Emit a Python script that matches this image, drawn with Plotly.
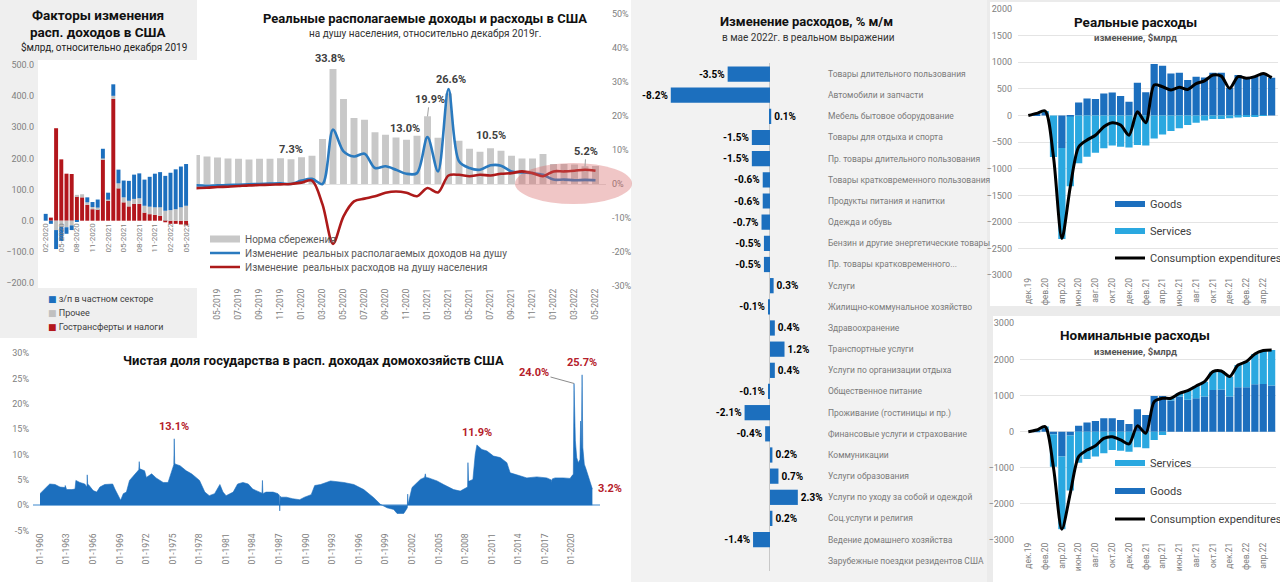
import plotly.graph_objects as go

W, H = 1280, 582


def fx(p):
    return p / W


def fy(p):
    return 1 - p / H


def dx(a, b):
    return [a / W, b / W]


def dy(top, bottom):
    return [1 - bottom / H, 1 - top / H]


FONT = "Roboto, 'Noto Sans', 'DejaVu Sans', sans-serif"
TICK = "#808080"
TXT = "#404040"
BLUE = "#1c6fbe"
LIGHT = "#2aa8e0"
RED_A = "#b3161c"
GRAY_A = "#c0c0c0"
SAV_GRAY = "#c8c8c8"
INC_BLUE = "#2a7abf"
SPEND_RED = "#ad1a1a"
ANN_RED = "#b5202a"


def mlabel(y, m):
    return f"{m:02d}-{y}"


# ---------------- Panel A: factors of disposable income change ----------------
fac_months = [mlabel(2020 + (m - 1) // 12, (m - 1) % 12 + 1) for m in range(2, 30)]
fac_transfers = [0, 10, 297, 197, 151, 150, 78, 75, 51, 37, 37, 197, 64, 391, 104, 59,
                 46, 54, 54, 26, 21, 19, 16, -5, -10, -10, -12, -15]
fac_other = [0, 0, -30, -20, -21, -15, 5, 10, 8, 7, 5, 3, 4, 10, 16, 16,
             18, 16, 18, 22, 24, 24, 27, 32, 34, 37, 43, 48]
fac_wages = [22, -10, -61, -45, -21, -15, -4, 0, 16, 16, 26, 31, 22, 37, 44, 54,
             64, 78, 80, 84, 96, 108, 113, 112, 120, 128, 131, 134]

# ---------------- Panel B: real income & spending per capita ----------------
b_idx = list(range(41))  # Jan 2019 .. May 2022
b_labels = [mlabel(2019 + i // 12, i % 12 + 1) for i in b_idx]
saving_rate = [8.8, 8.6, 8.5, 8.1, 7.8, 7.5, 7.4, 7.2, 7.4, 7.4, 7.6, 7.3,
               7.9, 8.3, 13.2, 33.8, 25.0, 19.4, 18.9, 15.2, 14.5, 13.7, 13.0, 14.2,
               19.9, 13.6, 26.6, 12.7, 10.4, 9.5, 10.5, 9.8, 8.3, 7.5, 7.5, 8.8,
               5.9, 5.9, 5.7, 5.2, 5.3]
income_chg = [-0.8, -0.6, -0.4, -0.5, -0.4, -0.3, -0.2, -0.1, 0.0, 0.1, 0.2, 0.0,
              1.0, 1.5, 0.0, 16.0, 9.6, 8.1, 8.9, 4.7, 5.2, 4.2, 3.0, 3.2,
              13.8, 3.7, 27.9, 6.7, 4.7, 4.2, 5.5, 5.4, 3.7, 3.4, 3.2, 2.7,
              1.3, 1.3, 1.1, 1.2, 1.1]
spend_chg = [-1.5, -1.3, -1.2, -1.1, -0.9, -0.8, -0.6, -0.4, -0.3, -0.2, -0.1, 0.0,
             0.4, 1.0, -6.0, -17.6, -9.5, -5.1, -4.3, -3.6, -2.6, -2.2, -2.6, -3.6,
             -1.2, -2.5, 2.5, 2.7, 2.3, 2.7, 2.5, 3.0, 3.2, 3.7, 3.2, 2.3,
             3.7, 3.7, 3.9, 4.2, 3.9]
b_yticks = list(range(-30, 51, 10))

# ---------------- Panel C: government net share ----------------
gov_year = [1960.0, 1960.2, 1960.75, 1961.1, 1961.7, 1962.25, 1962.8, 1962.85, 1962.9, 1963.0,
            1963.6, 1963.95, 1964.05, 1964.5, 1965.05, 1965.3, 1965.33, 1965.38, 1965.55, 1966.0,
            1966.4, 1966.76, 1967.3, 1967.9, 1968.2, 1968.45, 1968.8, 1969.1, 1969.4, 1969.75,
            1970.1, 1970.5, 1970.9, 1971.15, 1971.2, 1971.25, 1971.45, 1971.8, 1972.0, 1972.5,
            1972.6, 1973.1, 1973.9, 1974.45, 1974.85, 1975.1, 1975.15, 1975.2, 1975.3, 1975.8,
            1976.5, 1977.1, 1977.6, 1978.0, 1978.6, 1979.1, 1979.7, 1980.3, 1980.65, 1981.0,
            1981.8, 1982.3, 1982.9, 1983.5, 1984.0, 1984.8, 1985.05, 1985.1, 1985.15, 1985.5,
            1986.3, 1986.85, 1987.0, 1987.05, 1987.1, 1987.2, 1987.8, 1988.5, 1989.3, 1989.85,
            1990.6, 1991.0, 1991.66, 1992.78, 1994.28, 1995.41, 1996.53, 1997.66, 1998.41, 1999.17,
            1999.91, 2000.29, 2001.04, 2001.34, 2001.45, 2001.49, 2001.53, 2001.64, 2001.98, 2002.92,
            2003.4, 2003.48, 2003.55, 2003.85, 2004.8, 2005.54, 2006.67, 2007.42, 2008.18, 2008.25,
            2008.29, 2008.36, 2008.47, 2008.85, 2009.11, 2009.3, 2009.86, 2010.43, 2011.17, 2011.93,
            2012.68, 2013.05, 2013.8, 2014.93, 2016.06, 2017.18, 2017.7, 2017.75, 2017.8, 2018.12,
            2019.05, 2019.81, 2020.11, 2020.18, 2020.26, 2020.33, 2020.41, 2020.56, 2020.74, 2020.93,
            2021.0, 2021.08, 2021.17, 2021.25, 2021.42, 2021.62, 2021.82, 2022.0, 2022.33]
gov_share = [2.3, 2.6, 3.6, 4.2, 4.1, 3.6, 3.5, 3.9, 3.4, 3.1,
             3.1, 3.2, 4.9, 4.5, 4.2, 3.6, 6.0, 4.2, 3.9, 2.9,
             2.6, 3.6, 4.1, 4.1, 4.2, 3.2, 1.9, 1.0, 2.3, 2.6,
             4.9, 5.8, 6.5, 7.0, 8.6, 7.2, 7.1, 6.8, 5.5, 6.0,
             6.2, 5.4, 4.5, 4.5, 6.5, 8.0, 13.1, 8.3, 8.1, 7.8,
             6.8, 6.2, 5.5, 4.9, 2.6, 1.9, 2.3, 4.1, 2.6, 1.9,
             2.6, 4.2, 4.5, 4.2, 3.2, 2.6, 2.4, 4.9, 2.3, 2.6,
             2.6, 2.3, 2.0, -1.1, 1.8, 1.6, 1.6, 1.3, 1.1, 1.6,
             2.1, 3.9, 4.1, 4.8, 4.5, 4.1, 3.1, 1.5, 0.2, -0.5,
             -0.8, -1.6, -1.6, -0.8, -0.5, 2.2, 0.2, 1.0, 3.5, 5.1,
             5.5, 6.2, 5.5, 5.4, 4.8, 4.1, 3.1, 2.8, 3.5, 3.6,
             8.4, 4.8, 4.8, 5.1, 10.0, 11.9, 11.0, 10.7, 9.7, 9.4,
             8.4, 6.4, 6.0, 5.4, 5.6, 5.4, 5.0, 4.5, 5.2, 5.4,
             5.4, 5.3, 6.0, 6.1, 24.0, 17.9, 12.7, 9.4, 8.4, 9.0,
             16.6, 10.7, 25.7, 11.4, 8.1, 7.1, 6.1, 4.8, 3.2]
gov_ticks = list(range(1960, 2021, 3))
c_yticks = list(range(-5, 31, 5))

# ---------------- Panel D: spending change by category ----------------
pce_cats = ["Товары длительного пользования", "Автомобили и запчасти", "Мебель бытовое оборудование",
            "Товары для отдыха и спорта", "Пр. товары длительного пользования",
            "Товары кратковременного пользования", "Продукты питания и напитки", "Одежда и обувь",
            "Бензин и другие энергетические товары", "Пр. товары кратковременного...", "Услуги",
            "Жилищно-коммунальное хозяйство", "Здравоохранение", "Транспортные услуги",
            "Услуги по организации отдыха", "Общественное питание", "Проживание (гостиницы и пр.)",
            "Финансовые услуги и страхование", "Коммуникации", "Услуги образования",
            "Услуги по уходу за собой и одеждой", "Соц.услуги и религия", "Ведение домашнего хозяйства",
            "Зарубежные поездки резидентов США"]
pce_change = [-3.5, -8.2, 0.1, -1.5, -1.5, -0.6, -0.6, -0.7, -0.5, -0.5, 0.3,
              -0.1, 0.4, 1.2, 0.4, -0.1, -2.1, -0.4, 0.2, 0.7, 2.3, 0.2, -1.4, None]

# ---------------- Panels E/F: real and nominal spending ----------------
ru_mon = ["янв", "фев", "мар", "апр", "май", "июн", "июл", "авг", "сен", "окт", "ноя", "дек"]
ef_idx = list(range(30))  # Dec 2019 .. May 2022
ef_labels = [f"{ru_mon[(11 + i) % 12]}.{(2019 + (11 + i) // 12) % 100:02d}" for i in ef_idx]
real_goods = [0, 30, 60, 0, -610, -20, 245, 320, 310, 415, 430, 365, 260, 615, 435,
              965, 935, 790, 805, 665, 730, 715, 805, 805, 520, 760, 715, 740, 780, 710]
real_serv = [0, 10, 25, -780, -1710, -1310, -895, -775, -700, -615, -565, -585, -600, -555, -565,
             -430, -355, -290, -240, -180, -135, -95, -65, -65, -50, -35, -20, -10, -5, 0]
real_total = [0, 40, 85, -780, -2310, -1340, -590, -460, -370, -210, -135, -180, -370, 70, -135,
              575, 540, 480, 530, 490, 600, 650, 760, 740, 510, 730, 700, 730, 790, 710]
nom_goods = [0, 30, 70, -70, -690, -110, 165, 250, 295, 370, 370, 320, 210, 620, 460,
             990, 990, 860, 970, 880, 925, 970, 1155, 1170, 970, 1230, 1230, 1310, 1320, 1280]
nom_serv = [0, 15, 70, -900, -2010, -1520, -860, -760, -690, -600, -510, -530, -555, -435, -460,
            -230, -90, 65, 90, 255, 340, 415, 505, 510, 555, 615, 710, 840, 925, 980]
nom_total = [0, 45, 140, -1000, -2700, -1710, -690, -510, -390, -185, -140, -230, -340, 160, -45,
             830, 925, 925, 1060, 1135, 1265, 1385, 1660, 1680, 1525, 1845, 1940, 2150, 2245, 2260]

fig = go.Figure()

# Panel A
fa_x = list(range(len(fac_months)))
for vals, col in [(fac_transfers, RED_A), (fac_other, GRAY_A), (fac_wages, BLUE)]:
    fig.add_bar(x=fa_x, y=vals, marker=dict(color=col, line=dict(width=0)), width=0.76,
                xaxis="x", yaxis="y", showlegend=False, hoverinfo="skip")

# Panel B
fig.add_bar(x=b_idx, y=saving_rate, marker=dict(color=SAV_GRAY, line=dict(width=0)), width=0.66,
            xaxis="x2", yaxis="y2", showlegend=False, hoverinfo="skip")
fig.add_scatter(x=b_idx, y=income_chg, mode="lines", name="Изменение  реальных располагаемых доходов на душу",
                line=dict(color=INC_BLUE, width=2.6, shape="spline", smoothing=0.9),
                xaxis="x2", yaxis="y2", legend="legend2")
fig.add_scatter(x=b_idx, y=spend_chg, mode="lines", name="Изменение  реальных расходов на душу населения",
                line=dict(color=SPEND_RED, width=2.6, shape="spline", smoothing=0.9),
                xaxis="x2", yaxis="y2", legend="legend3")
fig.add_scatter(x=[None], y=[None], mode="lines", name="Норма сбережения",
                line=dict(color=SAV_GRAY, width=7), xaxis="x2", yaxis="y2", legend="legend")

# Panel C
fig.add_scatter(x=gov_year, y=gov_share, mode="lines", fill="tozeroy",
                line=dict(color=BLUE, width=0.6), fillcolor=BLUE,
                xaxis="x3", yaxis="y3", showlegend=False, hoverinfo="skip")

# Panel D
pce_text = [f"{v:.1f}%" if v is not None else "" for v in pce_change]
fig.add_bar(y=list(range(len(pce_cats))), x=pce_change, orientation="h",
            marker=dict(color=BLUE, line=dict(width=0)), width=0.72,
            text=pce_text, textposition="outside", constraintext="none", cliponaxis=False,
            textfont=dict(size=10, color="#000000", family=FONT, weight="bold"),
            xaxis="x4", yaxis="y4", showlegend=False, hoverinfo="skip")

# Panel E
fig.add_bar(x=ef_idx, y=real_goods, marker=dict(color=BLUE, line=dict(width=0)), width=0.86,
            xaxis="x5", yaxis="y5", showlegend=False, hoverinfo="skip")
fig.add_bar(x=ef_idx, y=real_serv, marker=dict(color=LIGHT, line=dict(width=0)), width=0.86,
            xaxis="x5", yaxis="y5", showlegend=False, hoverinfo="skip")
fig.add_scatter(x=ef_idx, y=real_total, mode="lines", name="Consumption expenditures",
                line=dict(color="#000000", width=3, shape="spline", smoothing=0.8),
                xaxis="x5", yaxis="y5", legend="legend6")
fig.add_scatter(x=[None], y=[None], mode="lines", name="Goods", line=dict(color=BLUE, width=6),
                xaxis="x5", yaxis="y5", legend="legend4")
fig.add_scatter(x=[None], y=[None], mode="lines", name="Services", line=dict(color=LIGHT, width=6),
                xaxis="x5", yaxis="y5", legend="legend5")

# Panel F
fig.add_bar(x=ef_idx, y=nom_goods, marker=dict(color=BLUE, line=dict(width=0)), width=0.86,
            xaxis="x6", yaxis="y6", showlegend=False, hoverinfo="skip")
fig.add_bar(x=ef_idx, y=nom_serv, marker=dict(color=LIGHT, line=dict(width=0)), width=0.86,
            xaxis="x6", yaxis="y6", showlegend=False, hoverinfo="skip")
fig.add_scatter(x=ef_idx, y=nom_total, mode="lines", name="Consumption expenditures",
                line=dict(color="#000000", width=3, shape="spline", smoothing=0.8),
                xaxis="x6", yaxis="y6", legend="legend9")
fig.add_scatter(x=[None], y=[None], mode="lines", name="Services", line=dict(color=LIGHT, width=6),
                xaxis="x6", yaxis="y6", legend="legend7")
fig.add_scatter(x=[None], y=[None], mode="lines", name="Goods", line=dict(color=BLUE, width=6),
                xaxis="x6", yaxis="y6", legend="legend8")

tickfont = dict(size=9, color=TICK, family=FONT)
xtickfont = dict(size=8.5, color=TICK, family=FONT)


def leg(xpx, ypx, size=10, color=TXT):
    return dict(x=fx(xpx), y=fy(ypx), xanchor="left", yanchor="middle", bgcolor="rgba(0,0,0,0)",
                borderwidth=0, font=dict(size=size, color=color, family=FONT), itemwidth=30,
                itemclick=False, itemdoubleclick=False)


base_ax = dict(showgrid=False, zeroline=False, showline=False, ticks="", fixedrange=True)

layout = dict(
    width=W, height=H, margin=dict(l=0, r=0, t=0, b=0, autoexpand=False),
    paper_bgcolor="white", plot_bgcolor="rgba(0,0,0,0)", barmode="relative",
    font=dict(family=FONT, color=TXT), hovermode=False,
    # Panel A
    xaxis=dict(base_ax, domain=dx(38, 193), range=[-1.48, 28.33], anchor="free", position=fy(220.7),
               tickvals=fa_x[::3], ticktext=fac_months[::3], tickangle=-90, tickfont=dict(size=8, color=TICK, family=FONT)),
    yaxis=dict(base_ax, domain=dy(65, 283), range=[-200, 500], anchor="x",
               tickvals=list(range(-200, 501, 100)), tickformat=".1f", tickfont=tickfont, ticklabelstandoff=3),
    # Panel B
    xaxis2=dict(base_ax, domain=dx(196.5, 606), range=[2, 41], anchor="y2",
                tickvals=b_idx[4::2], ticktext=b_labels[4::2], tickangle=-90, tickfont=xtickfont),
    yaxis2=dict(base_ax, domain=dy(14, 286), range=[-30, 50], anchor="x2", side="right",
                tickvals=b_yticks, ticktext=[f"{v}%" for v in b_yticks], tickfont=tickfont, ticklabelstandoff=5,
                zeroline=True, zerolinecolor="#e3e3e3", zerolinewidth=1),
    # Panel C
    xaxis3=dict(base_ax, domain=dx(33, 600), range=[1959.21, 2023.19], anchor="y3",
                tickvals=gov_ticks, ticktext=[f"01-{y}" for y in gov_ticks], tickangle=-90, tickfont=xtickfont),
    yaxis3=dict(base_ax, domain=dy(353, 530.7), range=[-5, 30], anchor="x3",
                tickvals=c_yticks, ticktext=[f"{v}%" for v in c_yticks], tickfont=tickfont, ticklabelstandoff=3,
                zeroline=True, zerolinecolor="#9dc3e6", zerolinewidth=1.5),
    # Panel D
    xaxis4=dict(base_ax, domain=dx(650, 822), range=[-9.917, 4.298], anchor="y4", showticklabels=False,
                zeroline=True, zerolinecolor="#c8c8c8", zerolinewidth=1),
    yaxis4=dict(base_ax, domain=dy(63, 571.4), range=[23.5, -0.52], anchor="x4", side="right",
                tickvals=list(range(len(pce_cats))), ticktext=pce_cats,
                tickfont=dict(size=8.5, color="#7a7a7a", family=FONT), ticklabelstandoff=5),
    # Panel E
    xaxis5=dict(base_ax, domain=dx(1018, 1278), range=[-1.23, 29.76], anchor="y5",
                tickvals=ef_idx[::2], ticktext=ef_labels[::2], tickangle=-90, tickfont=xtickfont),
    yaxis5=dict(base_ax, domain=dy(9, 275.3), range=[-3000, 2000], anchor="x5",
                tickvals=list(range(-3000, 2001, 500)), tickfont=tickfont, ticklabelstandoff=5,
                showgrid=True, gridcolor="#e4e4e4", gridwidth=1),
    # Panel F
    xaxis6=dict(base_ax, domain=dx(1020, 1276), range=[-0.99, 29.52], anchor="y6",
                tickvals=ef_idx[::2], ticktext=ef_labels[::2], tickangle=-90, tickfont=xtickfont),
    yaxis6=dict(base_ax, domain=dy(323.3, 540), range=[-3000, 3000], anchor="x6",
                tickvals=list(range(-3000, 3001, 1000)), tickfont=tickfont, ticklabelstandoff=5,
                showgrid=True, gridcolor="#e4e4e4", gridwidth=1),
    legend=leg(205, 239, 10, "#595959"),
    legend2=leg(205, 253, 10, "#595959"),
    legend3=leg(205, 267, 10, "#595959"),
    legend4=leg(1110, 204, 11),
    legend5=leg(1110, 231, 11),
    legend6=leg(1110, 258, 11),
    legend7=leg(1110, 463, 11),
    legend8=leg(1110, 491, 11),
    legend9=leg(1110, 519, 11),
)


def rect(x0, y0, x1, y1, color, layer="below"):
    return dict(type="rect", xref="paper", yref="paper", x0=fx(x0), x1=fx(x1), y0=fy(y0), y1=fy(y1),
                fillcolor=color, line=dict(width=0), layer=layer)


shapes = [
    rect(0, 0, 197, 338, "#efefef"),
    rect(38, 60, 197, 288, "#ffffff"),
    rect(631, 0, 987, 582, "#f2f2f2"),
    rect(987, 0, 1280, 582, "#ebebeb"),
    rect(990, 2, 1280, 306, "#ffffff"),
    rect(993, 316, 1280, 582, "#ffffff"),
    dict(type="circle", xref="paper", yref="paper", x0=fx(515), x1=fx(632), y0=fy(163), y1=fy(204),
         fillcolor="rgba(214,96,96,0.36)", line=dict(width=0), layer="above"),
]
layout["shapes"] = shapes


def ptxt(text, xpx, ypx, size=10, color=TXT, bold=False, xanchor="center"):
    t = f"<b>{text}</b>" if bold else text
    return dict(text=t, x=fx(xpx), y=fy(ypx), xref="paper", yref="paper", showarrow=False,
                xanchor=xanchor, yanchor="middle", font=dict(size=size, color=color, family=FONT))


ann = [
    # titles
    ptxt("Факторы изменения", 98, 15, 13.5, "#111111", True),
    ptxt("расп. доходов в США", 98, 32, 13.5, "#111111", True),
    ptxt("$млрд, относительно декабря 2019", 104, 47, 10, "#222222"),
    ptxt("Реальные располагаемые доходы и расходы в США", 425, 18, 13, "#111111", True),
    ptxt("на душу населения, относительно декабря 2019г.", 425, 33, 10, "#333333"),
    ptxt("Чистая доля государства в расп. доходах домохозяйств США", 313, 360, 13, "#111111", True),
    ptxt("Изменение расходов, % м/м", 806, 22, 13, "#111111", True),
    ptxt("в мае 2022г. в реальном выражении", 808, 37, 10, "#333333"),
    ptxt("Реальные расходы", 1135, 22, 13.5, "#111111", True),
    ptxt("изменение, $млрд", 1135, 38, 9.5, "#555555", True),
    ptxt("Номинальные расходы", 1135, 335, 13.5, "#111111", True),
    ptxt("изменение, $млрд", 1135, 351, 9.5, "#555555", True),
    # panel A legend
    ptxt(f'<span style="color:{BLUE}">■</span> з/п в частном секторе', 46, 299, 9, "#404040", xanchor="left"),
    ptxt(f'<span style="color:{GRAY_A}">■</span> Прочее', 46, 313, 9, "#404040", xanchor="left"),
    ptxt(f'<span style="color:{RED_A}">■</span> Гострансферты и налоги', 46, 327, 9, "#404040", xanchor="left"),
]

# Panel B value labels
for i, xs, ys in [(11, 0, 1), (15, -3, 2.5), (22, -2, 3), (30, 0, 4.5), (26, 2, 6)]:
    ann.append(dict(text=f"<b>{saving_rate[i]:.1f}%</b>", x=b_idx[i], y=saving_rate[i], xref="x2", yref="y2",
                    showarrow=False, yanchor="bottom", xshift=xs, yshift=ys,
                    font=dict(size=11, color=TXT, family=FONT)))
for i, ax, ay in [(24, 2, -17), (39, 1, -15)]:
    ann.append(dict(text=f"<b>{saving_rate[i]:.1f}%</b>", x=b_idx[i], y=saving_rate[i], xref="x2", yref="y2",
                    showarrow=True, arrowhead=0, arrowwidth=1, arrowcolor="#a0a0a0", ax=ax, ay=ay,
                    standoff=0, font=dict(size=11, color=TXT, family=FONT)))


# Panel C labels
def gov_pt(year):
    return gov_share[gov_year.index(year)]


for yr, xs, ys, xa in [(1975.15, 0, 4, "center"), (2009.3, 0, 4, "center"), (2021.17, 0, 4, "center"),
                       (2022.33, 4, -8, "left")]:
    ann.append(dict(text=f"<b>{gov_pt(yr):.1f}%</b>", x=yr, y=gov_pt(yr), xref="x3", yref="y3",
                    showarrow=False, yanchor="bottom", xanchor=xa, xshift=xs, yshift=ys,
                    font=dict(size=11, color=ANN_RED, family=FONT)))
ann.append(dict(text=f"<b>{gov_pt(2020.26):.1f}%</b>", x=2020.26, y=gov_pt(2020.26), xref="x3", yref="y3",
                showarrow=True, arrowhead=0, arrowwidth=1, arrowcolor="#8c8c8c", ax=-40, ay=-11,
                standoff=0, font=dict(size=11, color=ANN_RED, family=FONT)))

layout["annotations"] = ann
fig.update_layout(**layout)

fig.write_html("out.html")
